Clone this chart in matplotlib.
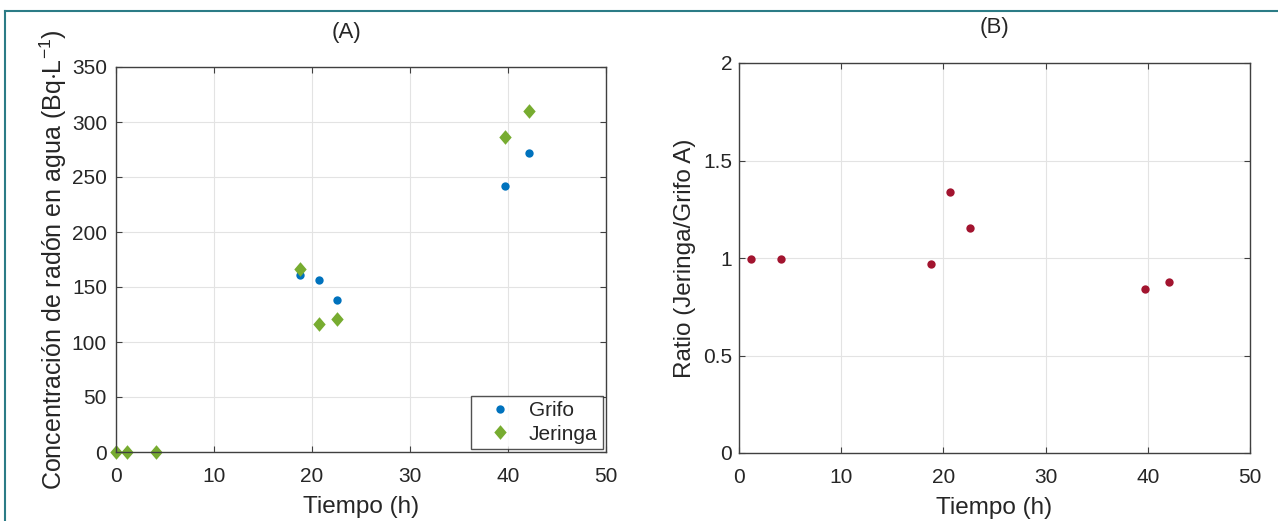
import numpy as np
import matplotlib
matplotlib.use('Agg')
import matplotlib.pyplot as plt
from matplotlib.lines import Line2D

plt.rcParams['font.family'] = ['Liberation Sans', 'DejaVu Sans']
plt.rcParams['mathtext.fontset'] = 'custom'
plt.rcParams['mathtext.rm'] = 'Liberation Sans'
plt.rcParams['mathtext.it'] = 'Liberation Sans:italic'

# datos
tiempo = [0, 1.15, 4.07, 18.8, 20.7, 22.6, 39.7, 42.1]
grifo = [0, 0, 0, 160.6, 156.4, 138.5, 242, 271.6]
jeringa = [0, 0, 0, 166.7, 116.8, 121, 286, 310.3]

tiempo_ratio = [1.15, 4.07, 18.8, 20.6, 22.6, 39.7, 42.1]
ratio = [0.993, 0.993, 0.969, 1.340, 1.152, 0.843, 0.879]

x_ticks = [0, 10, 20, 30, 40, 50]
yA_ticks = [0, 50, 100, 150, 200, 250, 300, 350]
yB_ticks = [0, 0.5, 1, 1.5, 2]
yB_labels = ['0', '0.5', '1', '1.5', '2']

txt = '#262626'
azul = '#0072BD'
verde = '#77AC30'
rojo = '#A2142F'
rombo = [(0, 1), (0.85, 0), (0, -1), (-0.85, 0), (0, 1)]

W, H = 1278, 521
fig = plt.figure(figsize=(W / 100, H / 100), dpi=100)


def estilo(ax, ypad):
    ax.grid(True, color='#e3e3e3', linewidth=0.8)
    ax.set_axisbelow(True)
    ax.tick_params(direction='in', top=True, right=True, length=4,
                   width=0.8, colors='#404040', labelcolor=txt,
                   labelsize=15)
    ax.tick_params(axis='x', pad=11)
    ax.tick_params(axis='y', pad=ypad)
    for s in ax.spines.values():
        s.set_color('#404040')
        s.set_linewidth(1.0)


# (A)
axA = fig.add_axes([116 / W, 1 - 452 / H, 490 / W, 385 / H])
estilo(axA, 6.5)
axA.plot(tiempo, grifo, 'o', color=azul, ms=6, mec='none', label='Grifo',
         clip_on=False)
axA.plot(tiempo, jeringa, marker=rombo, ls='none', color=verde, ms=10.5,
         mec='none', label='Jeringa', clip_on=False)
axA.set_xlim(0, 50)
axA.set_ylim(0, 350)
axA.set_xticks(x_ticks)
axA.set_yticks(yA_ticks)
axA.set_xlabel('Tiempo (h)', fontsize=17.5, color=txt, labelpad=7)
axA.set_ylabel('Concentración de radón en agua (Bq$\\cdot$L$^{-1}$)',
               fontsize=18, color=txt, labelpad=2)
axA.text(0.47, 1.09, '(A)', transform=axA.transAxes, ha='center',
         va='center', fontsize=16, color=txt)
leg = axA.legend(loc='lower right', fontsize=15, frameon=True, fancybox=False,
                 edgecolor='#262626', borderaxespad=0.15, handletextpad=0.25,
                 borderpad=0.25, labelspacing=0.2, handlelength=2.3)
leg.get_frame().set_linewidth(1.0)
for t in leg.get_texts():
    t.set_color(txt)

# (B)
axB = fig.add_axes([739 / W, 1 - 453 / H, 511 / W, 390 / H])
estilo(axB, 5)
axB.plot(tiempo_ratio, ratio, 'o', color=rojo, ms=6, mec='none')
axB.set_xlim(0, 50)
axB.set_ylim(0, 2)
axB.set_xticks(x_ticks)
axB.set_yticks(yB_ticks)
axB.set_yticklabels(yB_labels)
axB.set_xlabel('Tiempo (h)', fontsize=17.5, color=txt, labelpad=7)
axB.set_ylabel('Ratio (Jeringa/Grifo A)', fontsize=17.5, color=txt,
               labelpad=5)
axB.text(0.5, 1.09, '(B)', transform=axB.transAxes, ha='center',
         va='center', fontsize=16, color=txt)

# marco
fig.add_artist(Line2D([4.5 / W, 4.5 / W], [0, 1 - 11 / H],
                      color='#2b7c86', lw=1.5))
fig.add_artist(Line2D([4.5 / W, 1], [1 - 11 / H, 1 - 11 / H],
                      color='#2b7c86', lw=1.5))

plt.savefig('out.png', dpi=100)
